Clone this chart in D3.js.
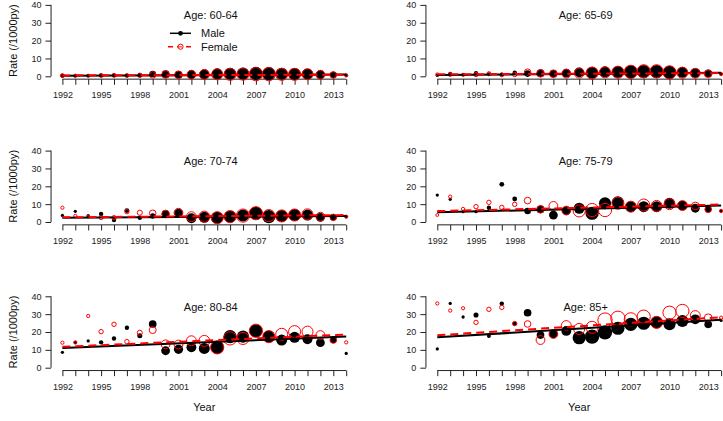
<!DOCTYPE html>
<html>
<head>
<meta charset="utf-8">
<script src="https://cdn.jsdelivr.net/npm/d3@7"></script>
<style>
  html, body { margin: 0; padding: 0; background: #fff; }
  svg { display: block; }
  text { font-family: "Liberation Sans", Arial, sans-serif; }
</style>
</head>
<body>
<script>
// ---------------- DATA ----------------
const years = [1992,1993,1994,1995,1996,1997,1998,1999,2000,2001,2002,2003,2004,2005,2006,2007,2008,2009,2010,2011,2012,2013,2014];
const yearTickLabels = ["1992","1995","1998","2001","2004","2007","2010","2013"];
const rateTicks = [0, 10, 20, 30, 40];
const ageGroups = ["60-64","65-69","70-74","75-79","80-84","85+"];

// rates (/1000py)
const male6064   = [0.3,0.2,0.3,0.6,0.6,0.5,0.7,1.3,1.2,0.9,1.0,1.2,1.4,1.4,1.5,1.6,1.5,1.4,1.3,1.3,1.0,0.8,0.5];
const female6064 = [0.4,0.3,0.3,0.4,0.5,0.4,0.5,0.8,1.0,0.8,0.9,1.0,1.1,1.1,1.2,1.2,1.2,1.1,1.1,1.1,0.9,0.7,0.5];
const male6569   = [0.5,1.5,1.0,1.8,1.2,1.0,2.0,1.5,1.8,1.5,1.8,2.2,2.0,2.5,2.4,2.5,2.6,2.6,2.2,2.2,1.8,1.6,1.3];
const female6569 = [1.0,1.0,0.8,1.0,1.5,0.8,1.0,2.3,1.6,1.4,1.5,1.8,1.8,2.2,2.3,2.5,2.8,2.8,2.2,2.0,1.7,1.4,1.2];
const male7074   = [3.7,6.0,3.6,4.5,1.1,6.4,2.4,3.4,4.5,4.9,2.1,2.6,2.4,3.0,3.6,4.9,3.0,3.4,3.9,3.9,2.6,2.6,3.0];
const female7074 = [8.0,3.4,3.0,2.4,2.4,5.8,5.2,4.9,4.5,5.2,3.0,3.0,2.4,3.0,3.6,4.9,3.6,3.4,3.9,4.3,3.0,2.6,3.0];
const male7579   = [15.1,12.7,5.8,5.8,8.0,21.1,12.9,6.2,7.1,3.9,6.4,7.7,4.9,10.5,11.0,8.6,8.6,8.6,10.5,9.2,7.7,7.1,6.2];
const female7579 = [3.9,14.2,7.3,8.6,11.0,8.2,9.9,12.0,7.1,9.0,6.4,6.2,6.7,6.7,10.5,8.6,9.5,9.0,10.0,9.2,9.0,7.1,6.2];
const male8084   = [8.6,14.0,15.0,14.2,16.4,22.4,17.9,24.5,9.5,10.3,11.4,10.8,11.4,17.4,17.4,20.7,17.4,15.5,17.0,15.9,14.0,15.5,8.0];
const female8084 = [14.0,14.2,29.0,20.2,24.3,14.6,19.6,21.1,13.1,13.0,15.1,15.0,11.4,16.4,16.4,20.7,17.4,18.7,20.2,20.2,18.3,15.5,14.2];
const male85     = [10.5,36.0,28.4,29.5,17.8,35.9,24.7,30.8,18.3,18.9,20.6,16.8,17.4,19.8,22.1,24.3,24.9,25.4,24.3,26.2,27.1,24.3,26.5];
const female85   = [36.0,32.0,33.3,25.4,32.7,33.8,24.7,24.5,15.5,18.9,23.6,21.7,22.6,26.7,27.7,27.1,28.6,25.4,30.8,31.8,29.2,28.0,28.0];

// relative weights (marker area)
const wMale6064   = [32,22,22,32,32,32,40,90,122,122,160,202,250,302,302,360,360,302,302,250,160,90,22];
const wFemale6064 = [32,22,22,32,32,32,40,90,122,122,160,202,250,302,302,360,360,302,302,250,160,90,22];
const wMale6569   = [22,32,22,40,32,32,40,90,122,122,160,202,302,250,302,360,360,360,360,250,202,122,22];
const wFemale6569 = [22,32,22,40,32,32,40,90,122,122,160,202,302,250,302,360,360,360,360,250,202,122,22];
const wMale7074   = [22,22,22,40,40,48,40,62,122,160,202,250,302,302,302,360,360,302,302,250,160,90,22];
const wFemale7074 = [22,22,17,32,40,40,53,90,122,160,202,250,302,302,360,360,302,302,302,250,160,90,22];
const wMale7579   = [22,22,22,22,40,48,48,90,122,160,160,250,360,302,302,250,250,250,250,202,160,90,22];
const wFemale7579 = [17,22,22,40,40,40,40,90,122,160,160,302,360,360,302,250,302,250,250,202,122,90,22];
const wMale8084   = [22,22,22,40,40,40,53,122,160,176,202,250,360,360,302,360,302,250,250,202,160,90,22];
const wFemale8084 = [22,22,22,40,40,40,53,102,160,160,202,250,360,360,302,360,302,302,302,250,160,90,22];
const wMale85     = [22,22,22,53,32,40,40,122,122,160,202,360,422,422,360,360,360,302,302,302,202,122,22];
const wFemale85   = [22,22,22,40,40,40,40,90,160,160,202,250,302,422,422,360,360,302,360,360,202,122,22];

// fitted trend lines: value at 1992 and at 2014
const fitMale   = [[0.3,1.0],[0.7,2.0],[2.4,3.4],[5.4,9.3],[11.0,17.5],[17.0,26.8]];
const fitFemale = [[0.5,0.9],[1.1,1.8],[2.6,3.9],[6.1,9.8],[11.7,18.6],[18.2,28.3]];

const maleRates   = [male6064, male6569, male7074, male7579, male8084, male85];
const femaleRates = [female6064, female6569, female7074, female7579, female8084, female85];
const maleW   = [wMale6064, wMale6569, wMale7074, wMale7579, wMale8084, wMale85];
const femaleW = [wFemale6064, wFemale6569, wFemale7074, wFemale7579, wFemale8084, wFemale85];

// ---------------- LAYOUT ----------------
const W = 723, H = 421;
const colX1992 = [62.4, 437.3];
const yearStep = 12.9;
const rowY0 = [76.3, 222.0, 367.7];
const unit = 1.785;
const ink = "#222";

const svg = d3.select("body").append("svg")
  .attr("width", W).attr("height", H)
  .attr("viewBox", `0 0 ${W} ${H}`);
svg.append("rect").attr("width", W).attr("height", H).attr("fill", "#fff");

const rScale = d3.scaleSqrt().domain([0, 360]).range([0, 6.6]);

ageGroups.forEach((age, i) => {
  const col = i % 2, row = Math.floor(i / 2);
  const x0 = colX1992[col], y0 = rowY0[row];
  const x = d3.scaleLinear().domain([1991.12, 2014.88])
    .range([x0 - 0.88 * yearStep, x0 + 22.88 * yearStep]);
  const y = d3.scaleLinear().domain([-1.6, 41.6])
    .range([y0 + 1.6 * unit, y0 - 41.6 * unit]);
  const g = svg.append("g");

  // y axis
  const ya = g.append("g").attr("transform", `translate(${x(1991.12)},0)`)
    .call(d3.axisLeft(y).tickValues(rateTicks).tickSize(5.6).tickPadding(4));
  ya.select(".domain").remove();
  ya.selectAll("line").attr("stroke", ink);
  ya.selectAll("text").attr("font-size", 9).attr("fill", ink)
    .attr("font-family", '"Liberation Sans", Arial, sans-serif');
  g.append("line").attr("x1", x(1991.12)).attr("x2", x(1991.12))
    .attr("y1", y(0)).attr("y2", y(40)).attr("stroke", ink);

  // x axis
  const xa = g.append("g").attr("transform", `translate(0,${y(-1.6)})`)
    .call(d3.axisBottom(x).tickValues(years).tickSize(5.6).tickPadding(7)
      .tickFormat(d => yearTickLabels.includes(String(d)) ? String(d) : ""));
  xa.select(".domain").remove();
  xa.selectAll("line").attr("stroke", ink);
  xa.selectAll("text").attr("font-size", 9).attr("fill", ink)
    .attr("font-family", '"Liberation Sans", Arial, sans-serif');
  g.append("line").attr("x1", x(years[0])).attr("x2", x(years[years.length - 1]))
    .attr("y1", y(-1.6)).attr("y2", y(-1.6)).attr("stroke", ink);

  // male points
  g.append("g").selectAll("circle").data(years).join("circle")
    .attr("cx", d => x(d)).attr("cy", (d, k) => y(maleRates[i][k]))
    .attr("r", (d, k) => rScale(maleW[i][k])).attr("fill", "#000");
  // female points
  g.append("g").selectAll("circle").data(years).join("circle")
    .attr("cx", d => x(d)).attr("cy", (d, k) => y(femaleRates[i][k]))
    .attr("r", (d, k) => rScale(femaleW[i][k]))
    .attr("fill", "none").attr("stroke", "red").attr("stroke-width", 1);

  // trend lines
  g.append("line").attr("x1", x(1992)).attr("x2", x(2014))
    .attr("y1", y(fitMale[i][0])).attr("y2", y(fitMale[i][1]))
    .attr("stroke", "#000").attr("stroke-width", 2);
  g.append("line").attr("x1", x(1992)).attr("x2", x(2014))
    .attr("y1", y(fitFemale[i][0])).attr("y2", y(fitFemale[i][1]))
    .attr("stroke", "red").attr("stroke-width", 2).attr("stroke-dasharray", "8,5");

  // title
  g.append("text").attr("x", x(2003.5)).attr("y", y(34)).attr("dy", "0.35em")
    .attr("text-anchor", "middle").attr("font-size", 11).attr("fill", "#111")
    .text("Age: " + age);

  // y label (left column)
  if (col === 0) {
    g.append("text").attr("transform", `translate(13,${y(20)}) rotate(-90)`)
      .attr("text-anchor", "middle").attr("dy", "0.35em").attr("font-size", 11)
      .attr("fill", "#111").text("Rate (/1000py)");
  }
  // x label (bottom row)
  if (row === 2) {
    g.append("text").attr("x", (x.range()[0] + x.range()[1]) / 2).attr("y", y0 + 39)
      .attr("dy", "0.35em").attr("text-anchor", "middle").attr("font-size", 11)
      .attr("fill", "#111").text("Year");
  }

  // legend (first panel)
  if (i === 0) {
    const lg = g.append("g");
    const lx1 = 170, lx2 = 191, ltx = 201;
    const rows = [
      {label: "Male", yy: 33.3},
      {label: "Female", yy: 46.7}
    ];
    lg.append("line").attr("x1", lx1).attr("x2", lx2).attr("y1", rows[0].yy).attr("y2", rows[0].yy)
      .attr("stroke", "#000").attr("stroke-width", 1.5);
    lg.append("circle").attr("cx", (lx1 + lx2) / 2).attr("cy", rows[0].yy).attr("r", 2.4).attr("fill", "#000");
    lg.append("line").attr("x1", lx1 - 2).attr("x2", lx2 + 2).attr("y1", rows[1].yy).attr("y2", rows[1].yy)
      .attr("stroke", "red").attr("stroke-width", 1.5).attr("stroke-dasharray", "5,4");
    lg.append("circle").attr("cx", (lx1 + lx2) / 2).attr("cy", rows[1].yy).attr("r", 2.6)
      .attr("fill", "#fff").attr("fill-opacity", 0.4).attr("stroke", "red").attr("stroke-width", 1);
    rows.forEach(rw => {
      lg.append("text").attr("x", ltx).attr("y", rw.yy).attr("dy", "0.35em")
        .attr("font-size", 11).attr("fill", "#111").text(rw.label);
    });
  }
});
</script>
</body>
</html>
